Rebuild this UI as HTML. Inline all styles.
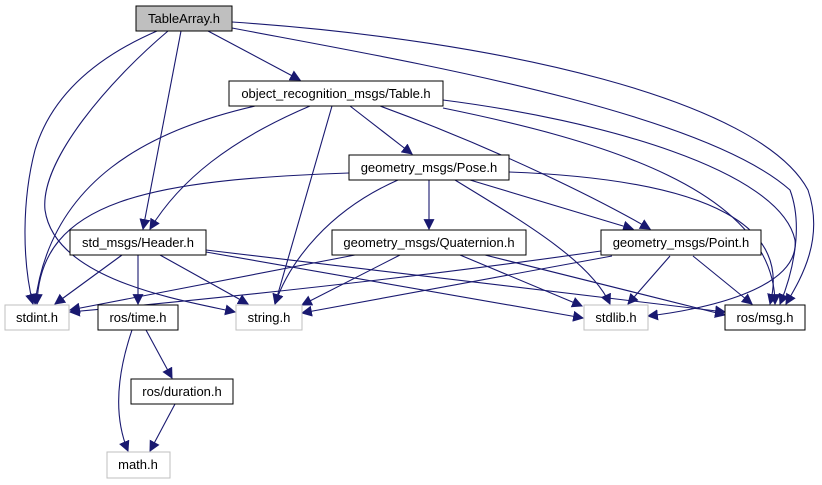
<!DOCTYPE html>
<html><head><style>
body{margin:0;background:#fff;}
svg{display:block;font-family:"Liberation Sans",sans-serif;}
</style></head><body>
<svg width="822" height="485" viewBox="0 0 822 485" xmlns="http://www.w3.org/2000/svg">
<defs><marker id="a" viewBox="0 0 10 10" refX="9" refY="5" markerWidth="11" markerHeight="11" markerUnits="userSpaceOnUse" orient="auto"><path d="M0,0 L10,5 L0,10 z" fill="#191970"/></marker></defs>
<g fill="none" stroke="#191970" stroke-width="1.1" marker-end="url(#a)">
<path d="M157,31 C90,60 50,100 35,150 C22,200 22,260 33,304"/>
<path d="M168,31 C110,80 40,160 45,210 C55,280 180,300 235,312"/>
<path d="M181,31 L143,229"/>
<path d="M208,31 L300,80"/>
<path d="M232,22 C500,40 760,100 808,190 C825,240 800,280 786,304"/>
<path d="M232,28 C400,60 700,110 790,190 C805,230 790,280 780,304"/>
<path d="M255,106 C150,130 50,180 35,304"/>
<path d="M310,106 C230,140 180,180 150,229"/>
<path d="M332,106 L275,304"/>
<path d="M350,106 L412,154"/>
<path d="M380,106 C500,150 600,200 650,229"/>
<path d="M443,100 C600,120 780,170 795,240 C800,290 700,310 648,316"/>
<path d="M443,108 C600,140 775,190 775,304"/>
<path d="M349,173 C150,180 40,200 37,304"/>
<path d="M398,180 C330,210 290,260 275,304"/>
<path d="M429,180 L429,229"/>
<path d="M455,180 C520,220 590,260 610,304"/>
<path d="M470,180 L633,229"/>
<path d="M509,172 C720,180 790,230 770,304"/>
<path d="M122,255 L55,304"/>
<path d="M138,255 L138,304"/>
<path d="M160,255 L248,304"/>
<path d="M206,252 L583,318"/>
<path d="M206,250 L725,312"/>
<path d="M355,255 L70,310"/>
<path d="M400,255 L302,305"/>
<path d="M460,255 L582,306"/>
<path d="M485,255 L725,315"/>
<path d="M601,251 C400,280 200,300 70,312"/>
<path d="M612,256 L302,313"/>
<path d="M670,256 L628,304"/>
<path d="M693,256 L752,304"/>
<path d="M146,330 L172,378"/>
<path d="M132,330 C115,380 115,420 128,451"/>
<path d="M175,404 L150,451"/>
</g>
<g font-size="13" text-anchor="middle" fill="#000">
<rect x="136" y="6" width="96" height="25" fill="#bfbfbf" stroke="#000"/><text x="184" y="23">TableArray.h</text>
<rect x="229" y="81" width="214" height="25" fill="#fff" stroke="#000"/><text x="336" y="98">object_recognition_msgs/Table.h</text>
<rect x="349" y="155" width="160" height="25" fill="#fff" stroke="#000"/><text x="429" y="172">geometry_msgs/Pose.h</text>
<rect x="70" y="230" width="136" height="25" fill="#fff" stroke="#000"/><text x="138" y="247">std_msgs/Header.h</text>
<rect x="332" y="230" width="194" height="25" fill="#fff" stroke="#000"/><text x="429" y="247">geometry_msgs/Quaternion.h</text>
<rect x="601" y="230" width="160" height="25" fill="#fff" stroke="#000"/><text x="681" y="247">geometry_msgs/Point.h</text>
<rect x="5" y="305" width="64" height="25" fill="#fff" stroke="#bfbfbf"/><text x="37" y="322">stdint.h</text>
<rect x="98" y="305" width="80" height="25" fill="#fff" stroke="#000"/><text x="138" y="322">ros/time.h</text>
<rect x="236" y="305" width="66" height="25" fill="#fff" stroke="#bfbfbf"/><text x="269" y="322">string.h</text>
<rect x="584" y="305" width="64" height="25" fill="#fff" stroke="#bfbfbf"/><text x="616" y="322">stdlib.h</text>
<rect x="725" y="305" width="80" height="25" fill="#fff" stroke="#000"/><text x="765" y="322">ros/msg.h</text>
<rect x="131" y="379" width="102" height="25" fill="#fff" stroke="#000"/><text x="182" y="396">ros/duration.h</text>
<rect x="107" y="452" width="63" height="26" fill="#fff" stroke="#bfbfbf"/><text x="138" y="469">math.h</text>
</g>
</svg>
</body></html>
